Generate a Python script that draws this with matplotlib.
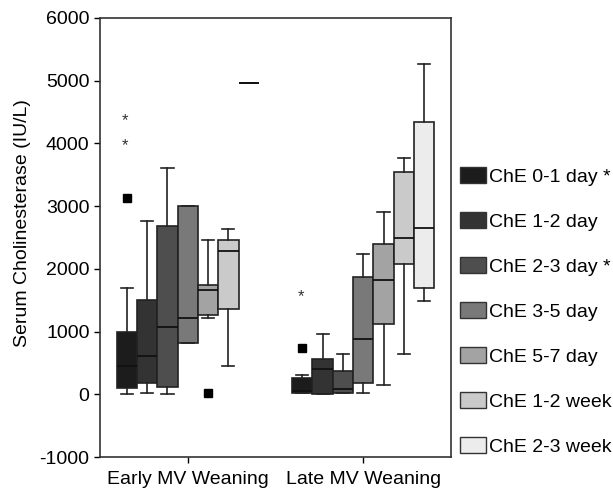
import matplotlib
matplotlib.use("Agg")
import matplotlib.pyplot as plt
from matplotlib.patches import Patch

plt.rcParams['font.family'] = ['Liberation Sans', 'DejaVu Sans']
plt.rcParams['axes.unicode_minus'] = False

groups = ["Early MV Weaning", "Late MV Weaning"]
series = ["ChE 0-1 day *", "ChE 1-2 day", "ChE 2-3 day *", "ChE 3-5 day",
          "ChE 5-7 day", "ChE 1-2 week", "ChE 2-3 week"]
colors = ["#1c1c1c", "#333333", "#4e4e4e", "#797979", "#a3a3a3", "#cacaca", "#ececec"]

# box stats per group, one entry per series
early_whislo = [0, 15, 0, 815, 1215, 450, 4960]
early_q1 = [95, 175, 110, 815, 1260, 1355, 4960]
early_med = [450, 605, 1070, 1215, 1660, 2285, 4960]
early_q3 = [990, 1500, 2680, 3000, 1740, 2460, 4960]
early_whishi = [1690, 2765, 3610, 3000, 2460, 2635, 4960]

late_whislo = [15, 0, 15, 15, 145, 640, 1485]
late_q1 = [15, 0, 15, 175, 1120, 2075, 1695]
late_med = [50, 400, 80, 880, 1820, 2490, 2650]
late_q3 = [255, 560, 365, 1870, 2395, 3545, 4345]
late_whishi = [300, 960, 635, 2235, 2910, 3770, 5270]

# outliers: (group, series index, value)
out_dots = [(0, 0, 3130), (0, 4, 20), (1, 0, 735)]
out_stars = [(0, 0, 4360), (0, 0, 3960), (1, 0, 1550)]

fig = plt.figure(figsize=(6.13, 4.91), dpi=100)
ax = fig.add_axes([100 / 613, 34 / 491, 351 / 613, 439 / 491])

w = 0.1157
offs = [(i - 3) * w for i in range(7)]

for g, (lo, q1, med, q3, hi) in enumerate([
        (early_whislo, early_q1, early_med, early_q3, early_whishi),
        (late_whislo, late_q1, late_med, late_q3, late_whishi)]):
    stats = []
    for i in range(7):
        stats.append(dict(whislo=lo[i], q1=q1[i], med=med[i], q3=q3[i], whishi=hi[i], fliers=[]))
    pos = [g + 1 + o for o in offs]
    bp = ax.bxp(stats, positions=pos, widths=w, patch_artist=True, showfliers=False,
                boxprops=dict(edgecolor="#222222", linewidth=1.2),
                medianprops=dict(color="#111111", linewidth=1.3),
                whiskerprops=dict(color="#222222", linewidth=1.2),
                capprops=dict(color="#222222", linewidth=1.2),
                capwidths=w * 0.6, manage_ticks=False)
    for patch, c in zip(bp['boxes'], colors):
        patch.set_facecolor(c)

for g, i, v in out_dots:
    ax.plot(g + 1 + offs[i], v, marker="s", color="black", markersize=5.5, linestyle="none")
for g, i, v in out_stars:
    ax.text(g + 1 + offs[i] - 0.01, v, "*", ha="center", va="center", fontsize=12, color="#333333")

ax.set_xlim(0.5, 2.5)
ax.set_ylim(-1000, 6000)
ax.set_yticks(range(-1000, 6001, 1000))
ax.set_xticks([1, 2])
ax.set_xticklabels(groups)
ax.tick_params(labelsize=14, length=4, width=1)
ax.tick_params(axis="x", pad=6)
ax.set_ylabel("Serum Cholinesterase (IU/L)", fontsize=14)
ax.yaxis.set_label_coords(-0.197, 0.533)
for s in ax.spines.values():
    s.set_linewidth(1.2)
    s.set_color("#333333")

handles = [Patch(facecolor=c, edgecolor="#333333", label=l) for c, l in zip(colors, series)]
fig.legend(handles=handles, loc="upper left", bbox_to_anchor=(460 / 613, 1 - 167 / 491),
           frameon=False, fontsize=14, labelspacing=1.36, handlelength=1.34,
           handleheight=0.87, handletextpad=0.17, borderaxespad=0, borderpad=0)

fig.savefig("out.png", dpi=100)
